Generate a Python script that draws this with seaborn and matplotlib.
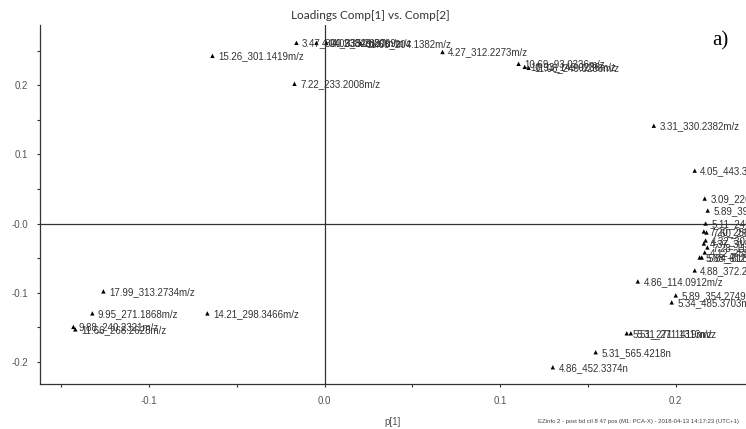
import numpy as np
import pandas as pd
import matplotlib
matplotlib.use("Agg")
import matplotlib.pyplot as plt
import seaborn as sns
from matplotlib.ticker import MultipleLocator, FixedLocator, FixedFormatter

# loadings
labels = [
    "15.26_301.1419m/z", "3.47_300.2384m/z", "4.04_335.2387m/z", "4.09_329.2009m/z",
    "11.68_204.1382m/z", "4.27_312.2273m/z", "10.69_93.0336m/z", "10.93_149.0236m/z",
    "11.08_249.0286m/z", "7.22_233.2008m/z",
    "3.31_330.2382m/z", "4.05_443.3258m/z", "3.09_226.1804m/z", "5.89_391.2841m/z",
    "5.11_245.1862m/z", "7.20_258.1966m/z", "7.60_256.2640m/z", "4.32_301.2156m/z",
    "4.37_319.2270m/z", "7.28_112.0871m/z", "4.12_255.2325m/z", "5.64_616.5401m/z",
    "5.68_612.4924m/z", "4.88_372.2869m/z",
    "4.86_114.0912m/z", "5.89_354.2749m/z", "5.34_485.3703m/z", "5.51_271.1419m/z",
    "5.31_271.1313m/z", "5.31_565.4218n", "4.86_452.3374n",
    "17.99_313.2734m/z", "9.95_271.1868m/z", "14.21_298.3466m/z",
    "9.88_240.2321m/z", "11.66_268.2628m/z",
]
p1 = [
    -0.0638, -0.0160, -0.0046, 0.0010,
    0.0205, 0.0672, 0.1105, 0.1140,
    0.1162, -0.0171,
    0.1875, 0.2108, 0.2165, 0.2182,
    0.2170, 0.2160, 0.2175, 0.2170,
    0.2160, 0.2180, 0.2165, 0.2148,
    0.2136, 0.2108,
    0.1784, 0.2000, 0.1977, 0.1721,
    0.1744, 0.1544, 0.1300,
    -0.1259, -0.1322, -0.0667,
    -0.1430, -0.1419,
]
p2 = [
    0.2424, 0.2612, 0.2612, 0.2612,
    0.2605, 0.2480, 0.2309, 0.2265,
    0.2251, 0.2020,
    0.1414, 0.0765, 0.0361, 0.0188,
    0.0000, -0.0115, -0.0130, -0.0245,
    -0.0289, -0.0346, -0.0418, -0.0491,
    -0.0491, -0.0678,
    -0.0837, -0.1039, -0.1140, -0.1587,
    -0.1587, -0.1861, -0.2078,
    -0.0981, -0.1299, -0.1299,
    -0.1494, -0.1530,
]

df = pd.DataFrame({"label": labels, "p1": p1, "p2": p2})

sns.set_style("ticks")
plt.rcParams["font.family"] = ["Liberation Sans", "DejaVu Sans"]

fig = plt.figure(figsize=(7.46, 4.29), dpi=100)
ax = fig.add_axes([40 / 746, 45 / 429, 706 / 746, 359 / 429])

ax.axhline(0, color="#333333", lw=0.9, zorder=1)
ax.axvline(0, color="#333333", lw=0.9, zorder=1)

sns.scatterplot(data=df, x="p1", y="p2", marker="^", color="black",
                s=10, edgecolor="none", ax=ax, zorder=3)

for _, row in df.iterrows():
    ax.annotate(row["label"], (row["p1"], row["p2"]), xytext=(4, -2.5),
                textcoords="offset points", fontsize=7, color="#333333",
                annotation_clip=False)

ax.set_xlim(-0.162, 0.240)
ax.set_ylim(-0.232, 0.287)

ax.xaxis.set_major_locator(FixedLocator([-0.1, 0.0, 0.1, 0.2]))
ax.xaxis.set_major_formatter(FixedFormatter(["-0.1", "0.0", "0.1", "0.2"]))
ax.yaxis.set_major_locator(FixedLocator([-0.2, -0.1, 0.0, 0.1, 0.2]))
ax.yaxis.set_major_formatter(FixedFormatter(["-0.2", "-0.1", "-0.0", "0.1", "0.2"]))
ax.xaxis.set_minor_locator(MultipleLocator(0.05))
ax.yaxis.set_minor_locator(MultipleLocator(0.05))
ax.tick_params(which="both", length=2.5, width=0.8, color="#333333",
               labelsize=7, labelcolor="#555555", pad=6)

for side in ["top", "right"]:
    ax.spines[side].set_visible(False)
for side in ["left", "bottom"]:
    ax.spines[side].set_color("#333333")
    ax.spines[side].set_linewidth(0.9)

ax.set_xlabel("p[1]", fontsize=7, color="#555555", labelpad=8)
ax.set_ylabel("p[2]", fontsize=7, color="#555555", labelpad=8)

fig.text(0.497, 0.965, "Loadings Comp[1] vs. Comp[2]", ha="center", va="center",
         fontsize=8.5, family="Lato", color="#333333")
fig.text(0.965, 0.905, "a)", ha="center", va="center", fontsize=15,
         family="Liberation Serif", color="black")
fig.text(0.99, 0.018,
         "EZinfo 2 - post bd ctl 8 47 pos (M1: PCA-X) - 2018-04-13 14:17:23 (UTC+1)",
         ha="right", va="center", fontsize=4.3, color="#444444")

fig.savefig("out.png", dpi=100)
